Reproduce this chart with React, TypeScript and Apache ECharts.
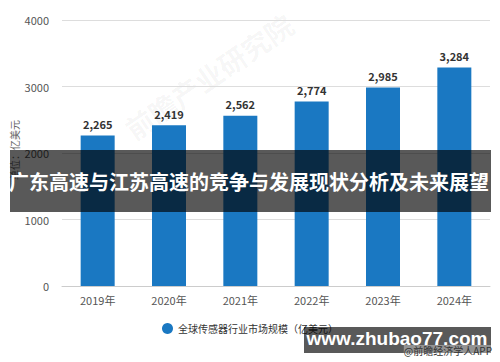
import React, { useEffect, useRef } from "react";
import * as echarts from "echarts";

const categories = ["2019年", "2020年", "2021年", "2022年", "2023年", "2024年"];
const values = [2265, 2419, 2562, 2774, 2985, 3284];
const seriesName = "全球传感器行业市场规模（亿美元）";
const yAxisName = "单位：亿美元";
const bannerText = "广东高速与江苏高速的竞争与发展现状分析及未来展望";
const siteText = "www.zhubao77.com";
const sourceText = "@前瞻经济学人APP";
const watermarkText = "前瞻产业研究院";

const FONT = "Noto Sans CJK SC";

export default function App() {
  const ref = useRef<HTMLDivElement>(null);
  useEffect(() => {
    if (!ref.current) return;
    const chart = echarts.init(ref.current, undefined, { renderer: "svg" });
    chart.setOption({
      animation: false,
      textStyle: { fontFamily: FONT },
      grid: { left: 62, right: 10, top: 20, bottom: 76 },
      legend: {
        data: [{ name: seriesName, icon: "circle" }],
        left: 157,
        top: 318,
        itemWidth: 11,
        itemHeight: 11,
        itemGap: 6,
        textStyle: { fontSize: 10, color: "#333", fontFamily: FONT },
      },
      xAxis: {
        type: "category",
        data: categories,
        axisLine: { lineStyle: { color: "#ccc" } },
        axisTick: { alignWithLabel: true, length: 4, lineStyle: { color: "#ccc" } },
        axisLabel: { color: "#555", fontSize: 11, margin: 8, fontFamily: FONT },
      },
      yAxis: {
        type: "value",
        min: 0,
        max: 4000,
        interval: 1000,
        axisLine: { show: false },
        axisTick: { show: false },
        axisLabel: {
          color: "#555",
          fontSize: 11,
          margin: 13,
          fontFamily: FONT,
          formatter: (v: number) => String(v),
        },
        splitLine: { lineStyle: { color: "#ddd" } },
      },
      series: [
        {
          name: seriesName,
          type: "bar",
          data: values,
          barWidth: 34,
          itemStyle: { color: "#1a78c2" },
          label: {
            show: true,
            position: "top",
            distance: 6,
            color: "#333",
            fontWeight: "bold",
            fontSize: 11,
            fontFamily: FONT,
            formatter: (p: any) => Number(p.value).toLocaleString("en-US"),
          },
        },
      ],
      graphic: [
        {
          type: "text",
          x: 120,
          y: 120,
          rotation: 0.6,
          style: {
            text: watermarkText,
            fontSize: 28,
            fontWeight: "bold",
            fill: "rgba(0,0,0,0.045)",
            fontFamily: FONT,
          },
          z: 0,
          silent: true,
        },
        {
          type: "text",
          x: 14,
          y: 150,
          rotation: Math.PI / 2,
          style: {
            text: yAxisName,
            fontSize: 10,
            fill: "#666",
            align: "center",
            verticalAlign: "middle",
            fontFamily: FONT,
          },
          z: 50,
        },
        {
          type: "rect",
          shape: { x: 10, y: 150, width: 481, height: 62 },
          style: { fill: "rgba(0,0,0,0.65)" },
          z: 100,
        },
        {
          type: "text",
          x: 249,
          y: 181,
          style: {
            text: bannerText,
            fontSize: 20,
            fontWeight: "bold",
            fill: "#fff",
            align: "center",
            verticalAlign: "middle",
            fontFamily: FONT,
          },
          z: 101,
        },
        {
          type: "rect",
          shape: { x: 304, y: 327, width: 187, height: 26 },
          style: { fill: "rgba(0,0,0,0.65)" },
          z: 100,
        },
        {
          type: "text",
          x: 397,
          y: 338,
          style: {
            text: siteText,
            fontSize: 19,
            fontWeight: "bold",
            fill: "#fff",
            align: "center",
            verticalAlign: "middle",
            fontFamily: "Liberation Sans",
          },
          z: 101,
        },
        {
          type: "text",
          x: 492,
          y: 350,
          style: {
            text: sourceText,
            fontSize: 10,
            fill: "#333",
            align: "right",
            verticalAlign: "middle",
            fontFamily: FONT,
            backgroundColor: "rgba(255,255,255,0.35)",
          },
          z: 102,
        },
      ],
    });
    return () => chart.dispose();
  }, []);
  return (
    <div
      ref={ref}
      style={{ position: "fixed", left: 0, top: 0, width: 500, height: 362, background: "#fff" }}
    />
  );
}
